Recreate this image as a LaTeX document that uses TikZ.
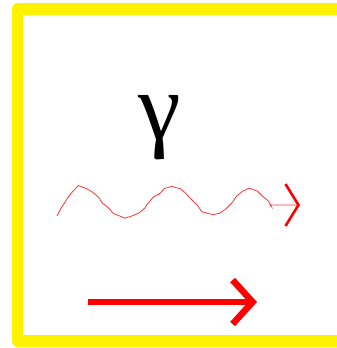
\documentclass[tikz,border=0pt]{standalone}
\usepackage{fontspec}
\newfontfamily\greekfont{Liberation Serif}
\usepackage{tikz}
\usetikzlibrary{arrows.meta,decorations.pathmorphing}

\begin{document}
\begin{tikzpicture}[
  x=1pt, y=-1pt,
  frame/.style={draw=yellow, line width=11.7pt, line join=round},
  label/.style={font=\greekfont\fontsize{96}{96}\selectfont, inner sep=0pt},
  wavy/.style={draw=red!80, line width=0.8pt,
    -{Straight Barb[length=13pt, width=42pt, line width=2.6pt, color=red]}},
  flow/.style={draw=red, line width=6.5pt,
    -{Straight Barb[length=20pt, width=44pt]}}
]
\useasboundingbox (0,0) rectangle (337,348);
\clip (0,0) rectangle (337,348);
\draw[frame] (17.5,9) rectangle (380,341);
\node[label, anchor=base] (gamma) at (160,139) {γ};
% photon line
\coordinate (wstart) at (57,216);
\coordinate (wend) at (300,205);
\pgfmathsetseed{11}
\draw[wavy] decorate[decoration={random steps, segment length=7pt,
    amplitude=1.4pt, post length=28pt}]
  {(wstart) sin (80,188) cos (102,203) sin (125,217) cos (148,203)
   sin (172,188) cos (192,201) sin (213,214) cos (232,202)
   sin (250,190) cos (270,205) -- (wend)};
% plain arrow
\coordinate (astart) at (88,302);
\coordinate (aend) at (257,302);
\draw[flow] (astart) -- (aend);
\end{tikzpicture}
\end{document}
